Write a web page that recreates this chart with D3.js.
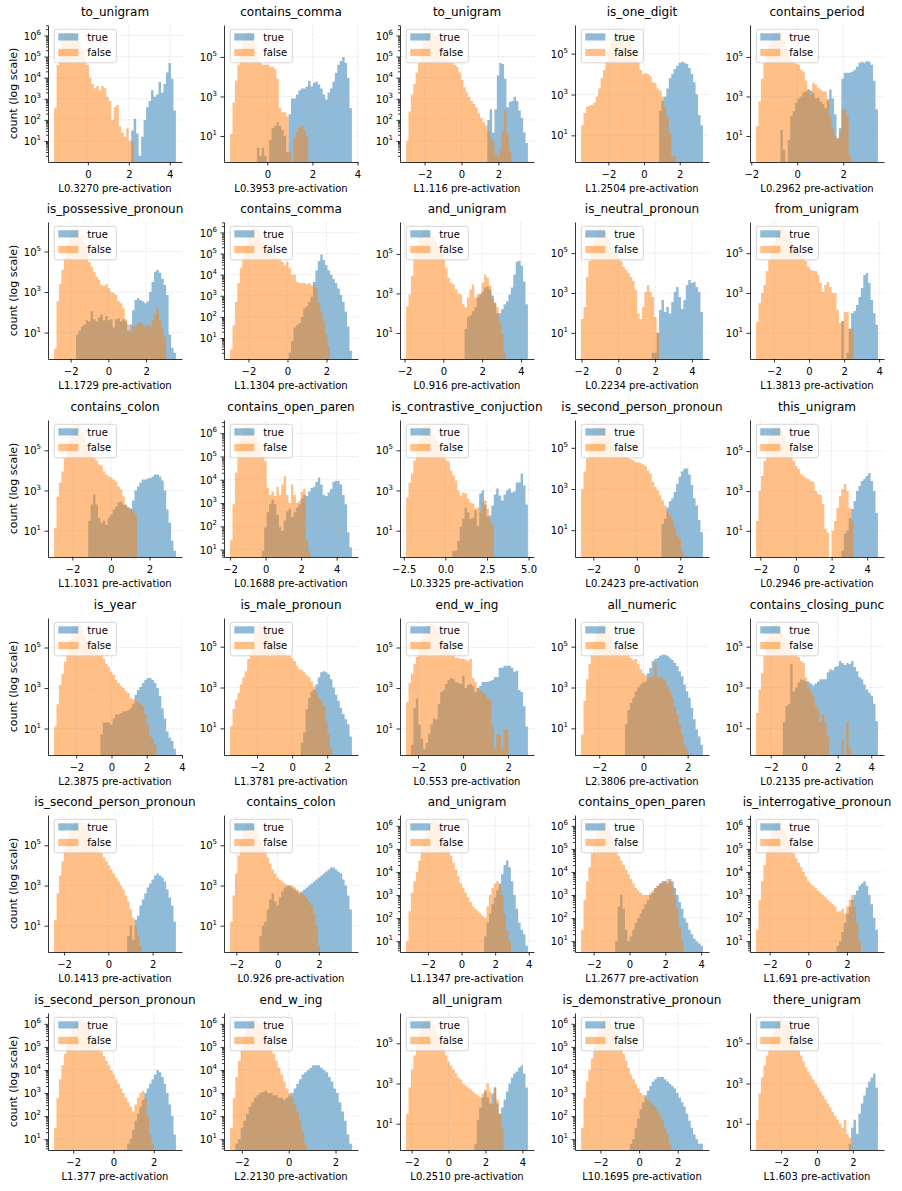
<!DOCTYPE html>
<html>
<head>
<meta charset="utf-8">
<script src="https://cdn.jsdelivr.net/npm/d3@7"></script>
<style>
body { margin: 0; background: #fff; }
svg text { font-family: "DejaVu Sans", sans-serif; fill: #000; }
.tick line, .domain { stroke-width: 0.8; }
</style>
</head>
<body>
<script>
"use strict";

///////////////////
// data
///////////////////

var titles = [
    "to_unigram", "contains_comma", "to_unigram", "is_one_digit", "contains_period",
    "is_possessive_pronoun", "contains_comma", "and_unigram", "is_neutral_pronoun", "from_unigram",
    "contains_colon", "contains_open_paren", "is_contrastive_conjuction", "is_second_person_pronoun", "this_unigram",
    "is_year", "is_male_pronoun", "end_w_ing", "all_numeric", "contains_closing_punc",
    "is_second_person_pronoun", "contains_colon", "and_unigram", "contains_open_paren", "is_interrogative_pronoun",
    "is_second_person_pronoun", "end_w_ing", "all_unigram", "is_demonstrative_pronoun", "there_unigram"
];

var neurons = [
    "L0.3270", "L0.3953", "L1.116", "L1.2504", "L0.2962",
    "L1.1729", "L1.1304", "L0.916", "L0.2234", "L1.3813",
    "L1.1031", "L0.1688", "L0.3325", "L0.2423", "L0.2946",
    "L2.3875", "L1.3781", "L0.553", "L2.3806", "L0.2135",
    "L0.1413", "L0.926", "L1.1347", "L1.2677", "L1.691",
    "L1.377", "L2.2130", "L0.2510", "L10.1695", "L1.603"
];

// min / max edge of the shared bins
var binRange = [
    [-1.65, 4.3], [-1.65, 3.75], [-3.0, 3.6], [-3.53, 3.3], [-1.79, 3.51],
    [-2.88, 3.58], [-2.94, 3.3], [-1.92, 4.36], [-2.02, 4.6], [-3.02, 3.93],
    [-2.95, 3.37], [-2.0, 4.86], [-2.36, 4.96], [-2.56, 3.04], [-2.24, 4.6],
    [-3.26, 3.66], [-3.54, 3.41], [-2.53, 2.88], [-2.82, 2.69], [-2.87, 4.4],
    [-2.45, 3.05], [-2.3, 3.6], [-3.3, 3.95], [-2.7, 4.1], [-2.7, 3.6],
    [-2.95, 3.1], [-2.5, 2.7], [-2.3, 4.3], [-3.0, 3.3], [-3.4, 3.4]
];

// log10(count) per bin, -1 = empty bin; "start" = index of the first bin
var falseStart = [0,0,0,0,0, 0,0,0,0,0, 0,0,0,0,0, 0,0,0,0,0, 0,0,0,0,0, 0,0,0,0,0];
var falseLog = [
    [2.57,4.6,5.3,5.8,6.1,6.2,6.2,6.1,6.0,5.8,5.5,5.3,4.9,4.6,4.0,3.7,3.5,3.6,3.4,3.6,3.5,3.1,2.9,2.0,2.6,2.7,1.7,1.4,1.2,1.6,1.0,1.0],
    [1.1,2.7,3.8,4.6,5.3,5.9,6.2,6.3,6.3,6.1,5.6,5.0,4.7,4.6,4.6,4.6,4.5,4.5,4.4,3.9,2.4,2.2,2.2,2.0,0.2,-1,0.9,1.2,1.4,1.5,1.3,1.0],
    [1.0,2.4,3.2,3.7,4.25,4.7,5.3,5.8,6.1,6.2,6.2,6.1,6.0,5.9,5.7,5.4,5.1,4.9,4.7,4.7,4.6,4.5,4.25,3.9,3.55,3.3,3.1,2.9,2.75,2.6,2.3,2.1,1.9,1.75,1.5,1.2,1.0,0.4,0.3,0.6,1.5,2.45,1.3,0.5],
    [1.5,2.1,2.4,2.45,2.5,2.6,2.9,3.3,3.8,4.2,4.6,5.2,5.6,5.9,6.0,6.1,6.1,6.1,6.0,5.9,5.6,5.2,4.8,4.6,4.2,4.0,4.05,4.0,3.9,3.6,3.55,3.3,3.2,2.9,2.4,1.9,1.1,0.0,0.0],
    [1.5,2.75,3.9,4.7,5.1,5.6,6.0,6.2,6.3,6.3,6.2,5.9,5.4,5.1,4.9,4.7,4.65,4.6,4.35,4.25,3.8,3.35,3.1,3.7,3.6,3.45,3.35,3.25,3.25,2.9,2.0,1.4,1.0,0.8,1.2,2.35,2.35,2.0,0.0],
    [0.2,2.55,3.4,4.1,4.7,5.3,5.8,6.1,6.15,6.15,6.1,5.8,5.4,5.0,4.5,4.25,4.0,3.75,3.6,3.35,3.3,3.4,3.2,3.0,2.95,2.85,2.55,2.45,2.2,1.65,1.4,1.0,1.3,1.3,1.5,1.5,1.4,1.3,1.4,1.3,1.6,1.9,2.2,1.6,1.2,0.8],
    [0.45,1.6,2.7,3.6,4.3,4.75,5.3,5.8,6.1,6.2,6.2,6.1,5.9,5.6,5.3,5.1,5.0,4.95,4.9,4.8,4.7,4.6,4.45,4.6,4.3,4.0,4.0,3.65,3.6,3.6,3.6,3.55,3.6,3.5,3.5,3.35,2.7,2.25,1.8,1.15,0.6],
    [2.35,2.95,3.9,4.8,5.45,5.9,6.2,6.3,6.3,6.2,6.0,5.8,5.6,5.4,5.0,4.7,4.3,3.8,3.55,3.45,3.2,3.0,2.95,2.45,2.3,2.8,3.2,3.45,2.8,2.95,3.0,3.55,3.95,3.8,3.4,2.8,2.55,2.3,1.6,0.95,0.0],
    [1.7,2.3,3.8,4.6,5.2,5.7,6.1,6.25,6.25,6.2,6.0,5.7,5.4,5.1,5.0,4.8,4.6,4.3,4.15,4.0,3.8,3.6,3.15,1.97,1.7,2.3,3.05,3.4,3.05,2.8,1.8,1.0],
    [1.55,2.5,3.0,3.4,4.1,4.65,5.15,5.6,6.0,6.2,6.25,6.2,6.0,5.8,5.6,5.3,5.2,5.1,4.9,4.75,4.6,4.3,4.15,4.1,4.1,3.9,3.5,3.05,3.4,3.55,3.3,3.0,3.0,2.15,1.5,1.6,2.05,2.05,1.2,1.2],
    [1.15,2.7,3.4,3.95,4.6,5.1,5.7,6.1,6.2,6.2,6.1,5.9,5.6,5.3,5.0,4.85,4.6,4.5,4.3,4.25,3.95,3.8,3.7,3.65,3.55,3.45,3.2,3.05,2.7,2.3,2.15,2.05,2.0,1.8],
    [1.4,2.95,4.3,5.35,5.9,6.2,6.3,6.3,6.25,6.1,5.9,5.6,5.3,5.0,4.8,3.65,3.35,3.5,3.3,3.7,3.35,3.8,4.15,3.35,3.0,3.8,3.35,3.0,3.1,3.5,3.6,1.4,0.95],
    [2.65,3.4,3.85,4.5,5.0,5.6,6.0,6.15,6.2,6.2,6.1,5.8,5.5,5.2,4.9,4.85,4.5,4.45,4.0,3.75,3.5,3.0,2.75,2.9,2.85,2.6,2.4,2.35,2.1,2.15,1.9,2.4,2.5,2.1,1.5,1.3],
    [3.0,3.85,4.5,5.1,5.6,5.9,6.0,6.05,6.05,6.0,5.9,5.7,5.4,5.1,4.9,4.75,4.7,4.6,4.55,4.5,4.45,4.4,4.3,4.3,4.25,4.2,4.1,3.9,3.75,3.35,3.1,2.95,2.7,2.45,2.2,1.95,1.7,1.5,1.15,0.75,0.6,0.0],
    [1.5,3.0,3.75,4.5,5.3,5.8,6.1,6.25,6.25,6.2,6.0,5.8,5.5,5.2,5.0,4.5,4.25,4.1,3.85,3.75,3.65,3.6,3.5,3.45,3.0,2.85,2.8,2.35,1.1,0.9,-1,1.0,1.5,2.15,2.75,3.1,3.35,3.0,2.15,1.5],
    [1.1,2.2,3.15,3.7,4.3,4.7,5.4,5.9,6.1,6.15,6.1,5.9,5.6,5.3,5.2,5.1,5.0,4.95,4.7,4.6,4.45,4.2,4.05,3.8,3.65,3.4,3.25,3.1,3.0,2.85,2.75,2.5,2.45,2.4,2.3,2.2,2.1,1.7,1.2,0.6,0.5,0.2],
    [1.1,1.95,2.4,2.75,3.15,3.5,3.8,4.4,4.7,5.2,5.7,6.0,6.1,6.1,6.0,5.9,5.7,5.5,5.3,5.1,4.95,4.8,4.7,4.6,4.55,4.45,4.3,4.05,3.9,3.85,3.75,3.6,3.5,3.3,3.05,2.8,2.5,2.35,2.1,1.35,0.7,0.0],
    [2.3,3.25,3.7,4.2,4.55,5.0,5.5,5.9,6.1,6.15,6.15,6.1,6.0,5.8,5.5,5.2,5.0,4.8,4.7,4.6,4.5,4.5,4.45,4.45,4.4,4.35,4.45,3.5,3.3,3.0,2.85,2.8,2.7,2.5,2.4,1.1,0.0,0.7,0.7,0.0,0.95,0.95],
    [0.7,2.35,3.4,4.15,4.7,5.3,5.8,6.05,6.1,6.1,6.0,5.8,5.5,5.2,5.0,4.95,4.9,4.95,4.9,4.7,4.45,4.35,4.4,4.15,3.9,3.7,3.6,3.45,3.5,3.55,4.2,3.5,3.5,3.45,3.35,3.05,2.8,2.5,2.1,1.7,1.2,0.7,0.2,0.0],
    [1.75,2.9,3.7,4.55,5.3,5.8,6.05,6.1,6.1,6.0,5.7,5.4,5.1,4.9,4.8,4.7,4.6,4.5,4.3,4.2,3.5,3.0,2.85,2.6,2.1,1.9,1.3,1.7,1.3,0.6,-1,-1,-1,-1,-1,0.45,-1,1.3,0.0],
    [1.3,2.6,3.5,4.2,4.8,5.3,5.7,6.0,6.15,6.2,6.2,6.15,6.0,5.8,5.6,5.4,5.2,5.0,4.8,4.6,4.4,4.2,4.0,3.8,3.6,3.4,3.2,3.0,2.8,2.5,2.2,1.8,1.4,1.0,0.5,0.0],
    [1.2,2.5,3.6,4.5,5.2,5.8,6.1,6.2,6.2,6.1,5.9,5.6,5.3,5.0,4.7,4.4,4.1,3.8,3.6,3.4,3.3,3.2,3.1,3.0,3.0,3.0,2.9,2.8,2.7,2.6,2.5,2.4,2.2,2.0,1.6,1.0,0.0],
    [1.0,2.3,3.1,3.6,4.0,4.5,5.0,5.5,5.8,6.1,6.2,6.2,6.2,6.1,5.9,5.6,5.3,5.0,4.7,4.4,4.1,3.8,3.5,3.3,3.1,2.9,2.7,2.5,2.4,2.3,2.2,2.1,2.0,2.5,3.0,3.3,3.5,3.6,3.4,3.0,2.2,1.5,1.0],
    [1.5,2.8,3.6,4.2,4.8,5.3,5.7,6.0,6.2,6.2,6.1,5.9,5.6,5.3,5.0,4.7,4.5,4.3,4.1,3.9,3.7,3.5,3.3,3.2,3.1,3.0,3.0,3.0,3.1,3.2,3.3,3.4,3.5,3.5,3.6,3.7,3.6,3.4,3.0,2.4,1.6,1.0],
    [1.5,2.8,3.6,4.3,4.9,5.4,5.8,6.0,6.2,6.2,6.1,5.9,5.7,5.4,5.1,4.8,4.6,4.4,4.2,4.0,3.8,3.6,3.5,3.4,3.3,3.2,3.1,3.0,2.9,2.8,2.7,2.6,2.5,2.3,2.3,2.4,2.2,2.5,2.8,3.0,2.5,1.8,1.0],
    [1.5,2.8,3.6,4.2,4.7,5.1,5.5,5.8,6.0,6.15,6.2,6.2,6.1,6.0,5.8,5.6,5.4,5.2,5.0,4.8,4.6,4.4,4.2,4.0,3.8,3.6,3.4,3.2,3.0,2.8,2.6,2.4,2.2,2.5,2.8,3.0,3.1,2.8,2.0,1.2,0.8],
    [1.5,2.8,3.7,4.4,5.0,5.5,5.9,6.1,6.2,6.2,6.1,6.0,5.8,5.6,5.3,5.0,4.7,4.4,4.1,3.8,3.5,3.2,3.0,2.8,2.5,2.2,1.8,1.3,0.8],
    [1.5,2.8,3.7,4.4,5.0,5.5,5.9,6.1,6.2,6.2,6.1,5.9,5.6,5.3,5.0,4.7,4.4,4.1,3.9,3.7,3.5,3.3,3.2,3.0,2.9,2.8,2.7,2.6,2.5,2.4,2.3,2.5,2.7,3.0,2.6,2.0,2.8,2.2,1.5,0.8],
    [1.5,2.8,3.5,4.0,4.5,5.0,5.4,5.8,6.0,6.2,6.2,6.1,6.0,5.8,5.6,5.3,5.0,4.7,4.4,4.1,3.8,3.6,3.4,3.2,3.0,2.9,2.8,2.7,2.6,2.5,2.4,2.2,2.0,1.8,1.5,1.2,0.8],
    [1.2,2.5,3.3,3.9,4.4,4.9,5.3,5.7,6.0,6.15,6.2,6.15,6.0,5.8,5.6,5.3,5.0,4.7,4.4,4.1,3.8,3.6,3.4,3.2,3.0,2.8,2.6,2.4,2.2,2.0,1.8,1.6,1.4,1.2,1.0,0.8,1.2,0.5,0.3]
];

var trueStart = [31,11,34,32,10, 9,24,24,29,35, 14,13,19,33,35, 19,29,2,18,11, 30,12,32,14,33, 30,2,28,20,38];
var trueLog = [
    [1.5,2.05,1.35,0.3,1.2,2.0,2.6,2.9,3.4,3.1,3.2,3.8,3.3,3.7,4.25,4.7,3.95,2.45],
    [0.4,0,0.4,0,-1,0.8,1.4,1.5,1.7,1.5,1.3,1.0,0.2,2.1,2.9,2.9,3.1,3.3,3.4,3.4,3.5,3.8,3.5,3.7,3.75,3.6,3.4,3.1,2.85,3.2,3.4,3.75,4.2,4.6,4.8,5.0,4.7,3.95,2.4],
    [2.0,2.5,1.4,2.5,4.1,4.7,4.65,3.95,2.6,2.85,2.9,3.1,2.9,2.45,2.1,1.4,0.9],
    [2.2,2.7,2.9,3.3,3.8,4.0,4.25,4.4,4.55,4.6,4.55,4.5,4.3,4.0,3.6,3.0,2.0,1.5],
    [1.3,0.3,-1,0.8,2.0,2.25,2.7,2.9,3.0,3.2,3.25,3.35,3.3,3.2,2.9,2.95,2.75,2.6,2.4,2.8,3.35,2.9,2.1,0.9,1.4,3.9,4.2,4.2,4.2,4.25,4.35,4.5,4.7,4.75,4.7,4.8,4.75,4.6,3.8,2.35],
    [0.9,1.1,1.3,1.4,1.6,1.55,2.05,1.65,1.55,1.75,1.9,1.6,1.8,1.6,1.65,1.25,1.65,1.7,1.55,1.65,1.55,1.1,1.4,2.1,2.6,2.7,2.6,2.55,2.45,2.55,3.0,3.5,4.0,4.1,3.95,3.65,3.35,2.85,0.9,0.25,0.0],
    [0.3,0.85,1.5,1.6,1.7,2.0,2.4,2.5,2.7,2.95,3.65,4.2,4.65,4.95,4.7,4.45,4.2,4.0,3.8,3.6,3.35,3.05,2.7,2.25,1.55,0.4],
    [1.2,1.8,1.9,2.1,2.3,2.8,2.95,3.1,3.3,3.35,3.2,2.9,2.5,2.0,2.0,2.2,2.45,2.6,2.95,3.3,3.95,4.6,4.65,4.4,3.6,2.45],
    [0.0,0.0,1.0,2.15,2.65,2.05,2.3,1.97,2.55,3.05,3.3,2.8,2.2,2.65,3.4,3.65,3.5,3.55,3.3,3.05,2.05],
    [1.6,-1,0.0,1.2,2.0,2.1,2.4,2.8,3.25,3.9,4.0,3.5,2.65,2.0,1.4],
    [1.5,2.3,2.8,2.3,1.65,1.4,1.5,1.3,1.65,1.8,2.05,2.2,2.4,2.45,2.3,2.25,2.15,2.1,2.5,3.0,3.2,3.4,3.55,3.55,3.6,3.62,3.7,3.8,3.8,3.7,3.5,3.0,2.05,1.4,0.5,0.0],
    [0.95,1.95,2.6,2.95,3.15,2.95,2.5,1.95,1.8,2.25,2.65,2.75,2.4,2.6,2.8,2.95,3.2,3.35,3.3,3.5,3.65,3.7,3.9,4.1,3.8,3.35,3.3,3.45,3.6,3.9,3.95,3.95,3.8,3.35,2.95,1.75,1.1],
    [0.0,0.0,0.5,1.2,1.6,2.15,1.9,1.6,1.65,2.0,1.25,2.85,3.0,2.3,1.7,1.75,2.25,2.8,3.1,2.75,2.5,2.8,3.0,3.1,2.9,2.95,3.4,3.4,3.85,3.25,2.3],
    [1.3,1.55,2.1,2.4,2.55,2.85,3.25,3.6,3.85,4.0,4.0,3.7,3.2,2.55,2.2,1.5,0.9],
    [0.0,0.85,1.0,1.65,2.1,2.5,3.0,3.25,3.5,3.6,3.75,3.9,3.5,3.0,1.9],
    [0.7,1.3,1.3,1.3,1.2,1.5,1.7,1.7,1.75,1.85,1.85,1.9,2.0,2.2,2.65,2.9,3.05,3.25,3.4,3.5,3.5,3.4,3.25,3.0,2.6,2.0,1.5,0.85,0.55,0.4,0.0],
    [0.3,0.8,1.95,2.5,2.8,2.9,3.15,3.5,3.75,3.8,3.75,3.65,3.4,3.0,2.65,2.35,2.0,1.7,1.45,1.2,0.6],
    [0.2,2.0,2.5,1.2,0.5,0.0,0.3,0.75,1.2,1.5,1.45,2.2,2.8,2.9,3.2,3.4,3.5,3.45,3.3,3.25,3.2,3.6,3.0,3.15,3.2,3.1,2.8,3.0,3.1,3.3,3.3,3.3,3.35,3.4,3.55,3.55,4.0,4.0,4.1,4.1,4.1,4.0,3.8,3.85,2.9,2.8,2.1,1.1],
    [1.2,1.9,2.25,2.5,2.8,3.0,3.15,3.25,3.3,3.7,3.95,4.3,4.4,4.45,4.55,4.6,4.6,4.55,4.45,4.35,4.2,4.05,3.8,3.55,3.15,2.8,2.5,2.0,1.45,0.95,0.6,0.2],
    [1.3,2.1,2.2,4.15,2.8,3.0,3.25,3.4,3.35,3.3,3.3,3.2,3.1,3.2,3.3,3.4,3.4,3.4,3.75,3.9,3.85,4.0,4.05,4.3,4.2,4.1,4.2,4.15,4.3,4.0,3.8,3.5,3.4,3.15,2.9,2.75,2.6,2.2,1.35],
    [0.5,1.0,0.3,1.3,1.5,2.0,2.3,2.6,2.9,3.1,3.3,3.5,3.6,3.5,3.4,3.2,2.8,2.4,2.0,1.2],
    [0.5,1.0,1.2,1.8,2.3,2.6,2.2,2.0,2.4,2.7,2.9,3.0,3.0,2.9,2.8,2.7,2.6,2.7,2.8,2.9,3.0,3.1,3.2,3.3,3.4,3.5,3.6,3.7,3.8,3.9,3.9,3.8,3.7,3.6,3.3,3.0,2.5,1.8],
    [1.2,1.8,2.2,2.6,2.9,3.2,3.5,3.9,4.3,4.5,4.2,3.6,3.0,2.4,1.8,1.5,1.3,0.8],
    [1.0,2.5,3.0,2.4,1.5,1.0,1.2,1.5,1.8,2.0,2.2,2.4,2.6,2.8,3.0,3.1,3.3,3.4,3.5,3.6,3.6,3.5,3.7,3.6,3.3,3.0,2.7,2.4,2.0,1.8,1.5,1.3,1.1,1.0,0.9,0.8],
    [0.8,1.0,1.4,1.8,2.2,2.5,2.8,3.0,3.2,3.4,3.5,3.6,3.4,3.0,2.6,2.0,1.5],
    [0.8,1.0,1.4,1.8,2.1,2.4,2.7,3.0,3.2,3.4,3.6,3.8,4.0,3.9,3.7,3.4,3.0,2.5,2.0,1.2],
    [0.8,1.0,1.5,1.8,2.1,2.4,2.6,2.8,2.9,3.0,3.05,3.1,3.0,3.0,2.9,2.9,2.8,2.8,2.7,2.8,2.9,3.0,3.2,3.4,3.6,3.8,3.9,4.0,4.1,4.2,4.2,4.2,4.1,4.0,3.9,3.7,3.5,3.2,3.0,2.6,2.2,1.8,1.2,0.8],
    [0.0,1.2,1.8,2.3,2.6,2.3,2.0,2.5,2.8,2.0,1.5,1.8,2.2,2.6,3.0,3.3,3.5,3.6,3.8,3.9,3.5,2.8],
    [0.8,1.0,1.5,1.9,2.3,2.6,2.9,3.1,3.3,3.5,3.6,3.7,3.7,3.7,3.6,3.5,3.4,3.3,3.2,3.0,2.8,2.6,2.4,2.1,1.8,1.5,1.2,1.0,0.8,0.8],
    [0.0,0.8,1.2,0.5,1.5,2.0,2.4,2.8,3.1,3.3,3.5,2.8]
];

///////////////////
// layout
///////////////////

var colX = [48, 224, 400, 575, 750];
var rowY = [25, 222, 420, 618, 815, 1013];
var pw = 134, ph = 137;
var BLUE = "#1f77b4", ORANGE = "#ff7f0e";

// matplotlib-like MaxNLocator step (nbins = 4)
function niceStep(range) {
    var raw = range / 4;
    var mag = Math.pow(10, Math.floor(Math.log10(raw)));
    var steps = [1, 2, 2.5, 5, 10];
    for (var k = 0; k < steps.length; k++) {
        if (steps[k] * mag >= raw - 1e-12) return steps[k] * mag;
    }
    return 10 * mag;
}

function fmtTick(v, step) {
    var dec = Math.abs(step - Math.round(step)) > 1e-9 ? 1 : 0;
    if (Math.abs(v) < 1e-9) v = 0;
    return v.toFixed(dec).replace("-", "\u2212");
}

// log locator: decades with a stride, minor ticks only when stride is 1
function logTicks(lo, hi) {
    var numdec = Math.floor(hi) - Math.ceil(lo);
    var stride = Math.floor(numdec / 6) + 1;
    var major = [], minor = [];
    for (var d = Math.floor(lo) - stride; d <= Math.ceil(hi) + stride; d += stride) {
        if (d >= lo && d <= hi) major.push(d);
    }
    if (stride === 1) {
        for (var e = Math.floor(lo); e <= Math.ceil(hi); e++) {
            for (var s = 2; s <= 9; s++) {
                var v = e + Math.log10(s);
                if (v >= lo && v <= hi) minor.push(v);
            }
        }
    }
    return { major: major, minor: minor };
}

var svg = d3.select("body").append("svg")
    .attr("width", 902).attr("height", 1191);

titles.forEach(function(title, i) {
    var col = i % 5, row = Math.floor(i / 5);
    var g = svg.append("g")
        .attr("transform", "translate(" + colX[col] + "," + rowY[row] + ")");

    var tVals = trueLog[i], fVals = falseLog[i];
    var nBins = Math.max(trueStart[i] + tVals.length, falseStart[i] + fVals.length);
    var x0 = binRange[i][0], x1 = binRange[i][1];
    var bw = (x1 - x0) / nBins;
    var xr = x1 - x0;

    var x = d3.scaleLinear()
        .domain([x0 - 0.05 * xr, x1 + 0.05 * xr])
        .range([0, pw]);

    var all = tVals.concat(fVals).filter(function(v) { return v >= 0; });
    var lo = d3.min(all), hi = d3.max(all);
    var pad = 0.05 * (hi - lo);
    var yLo = lo - pad, yHi = hi + pad;
    var y = d3.scaleLog()
        .domain([Math.pow(10, yLo), Math.pow(10, yHi)])
        .range([ph, 0]);

    function barPath(start, vals) {
        var p = d3.path();
        vals.forEach(function(v, k) {
            if (v < 0 || v <= yLo) return;
            var a = x(x0 + (start + k) * bw), b = x(x0 + (start + k + 1) * bw);
            var top = y(Math.pow(10, v));
            p.moveTo(a, ph); p.lineTo(a, top); p.lineTo(b, top); p.lineTo(b, ph); p.closePath();
        });
        return p.toString();
    }

    g.append("clipPath").attr("id", "clip" + i)
        .append("rect").attr("width", pw).attr("height", ph);
    var plot = g.append("g").attr("clip-path", "url(#clip" + i + ")");

    plot.append("path").attr("d", barPath(trueStart[i], tVals))
        .attr("fill", BLUE).attr("fill-opacity", 0.5);
    plot.append("path").attr("d", barPath(falseStart[i], fVals))
        .attr("fill", ORANGE).attr("fill-opacity", 0.5);

    // ticks
    var xd = x.domain();
    var step = niceStep(xd[1] - xd[0]);
    var xt = d3.range(Math.ceil(xd[0] / step - 1e-9) * step, xd[1] + 1e-9, step);
    var lt = logTicks(yLo, yHi);

    // grid (over the bars, like matplotlib)
    var grid = plot.append("g")
        .attr("stroke", "#b0b0b0").attr("stroke-opacity", 0.3)
        .attr("stroke-width", 0.8).attr("stroke-dasharray", "2.96,1.28");
    xt.forEach(function(v) {
        grid.append("line").attr("x1", x(v)).attr("x2", x(v)).attr("y1", 0).attr("y2", ph);
    });
    lt.major.forEach(function(d) {
        var yy = y(Math.pow(10, d));
        grid.append("line").attr("x1", 0).attr("x2", pw).attr("y1", yy).attr("y2", yy);
    });

    // x axis
    g.append("g")
        .attr("transform", "translate(0," + ph + ")")
        .call(d3.axisBottom(x).tickValues(xt).tickSize(3.5).tickSizeOuter(0)
            .tickPadding(5.4).tickFormat(function(v) { return fmtTick(v, step); }))
        .attr("font-size", 10);

    // y axis, minor ticks first
    if (lt.minor.length) {
        var ym = g.append("g")
            .call(d3.axisLeft(y).tickValues(lt.minor.map(function(d) { return Math.pow(10, d); }))
                .tickSize(2).tickSizeOuter(0).tickFormat(""));
        ym.select(".domain").remove();
    }
    var ya = g.append("g")
        .call(d3.axisLeft(y).tickValues(lt.major.map(function(d) { return Math.pow(10, d); }))
            .tickSize(3.5).tickSizeOuter(0).tickPadding(3.5).tickFormat(""))
        .attr("font-size", 10);
    ya.selectAll(".tick text").each(function(d) {
        var t = d3.select(this).text(null).attr("dy", null).attr("y", 3.6);
        t.append("tspan").text("10");
        t.append("tspan").attr("dy", -5).attr("font-size", 7).text(Math.round(Math.log10(d)));
    });

    // legend
    var lg = g.append("g").attr("transform", "translate(6.3,4.3)");
    lg.append("rect").attr("width", 62).attr("height", 33.5).attr("rx", 2)
        .attr("fill", "#fff").attr("fill-opacity", 0.8)
        .attr("stroke", "#cccccc").attr("stroke-width", 0.8);
    [["true", BLUE], ["false", ORANGE]].forEach(function(e, k) {
        lg.append("rect").attr("x", 4).attr("y", 4 + k * 15.6)
            .attr("width", 20).attr("height", 7.2)
            .attr("fill", e[1]).attr("fill-opacity", 0.5);
        lg.append("text").attr("x", 33).attr("y", 11.4 + k * 15.6)
            .attr("font-size", 10).text(e[0]);
    });

    // labels
    g.append("text").attr("x", pw / 2).attr("y", -9)
        .attr("text-anchor", "middle").attr("font-size", 12).text(title);
    g.append("text").attr("x", pw / 2).attr("y", ph + 29.5)
        .attr("text-anchor", "middle").attr("font-size", 10)
        .text(neurons[i] + " pre-activation");
    if (col === 0) {
        g.append("text")
            .attr("transform", "translate(-31.5," + (ph / 2) + ") rotate(-90)")
            .attr("text-anchor", "middle").attr("font-size", 11)
            .text("count (log scale)");
    }
});
</script>
